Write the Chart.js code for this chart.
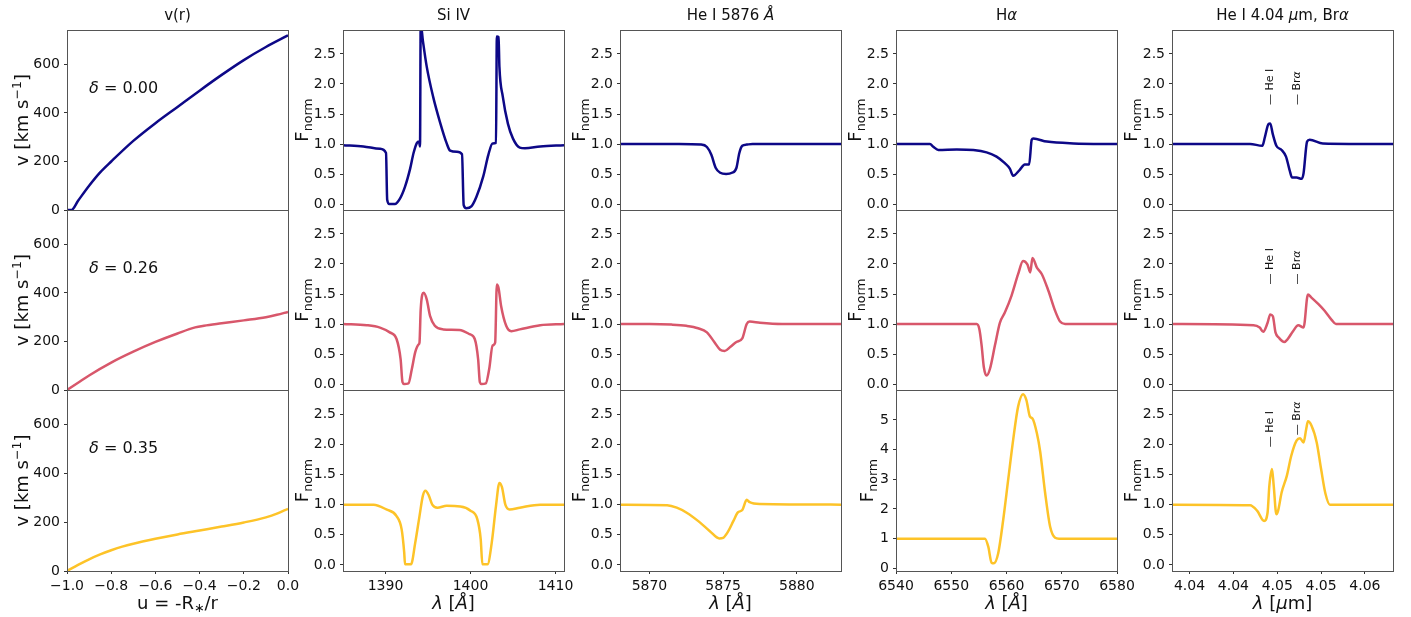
<!DOCTYPE html>
<html>
<head>
<meta charset="utf-8">
<script src="https://cdn.jsdelivr.net/npm/chart.js"></script>
<style>
  body { margin: 0; background: #fff; }
  #fig { position: relative; width: 1411px; height: 617px; overflow: hidden; background: #fff; }
  #fig canvas { position: absolute; }
</style>
</head>
<body>
<div id="fig"></div>
<script>
// ---- data ----
const deltas = ['0.00', '0.26', '0.35'];

// v(r) vs u = -R*/r
const vrU0 = [-1.0, -0.98, -0.95, -0.9, -0.85, -0.8, -0.7, -0.6, -0.5, -0.4, -0.3, -0.2, -0.1, 0.0];
const vrV0 = [0, 0, 38, 100, 155, 200, 285, 358, 425, 492, 557, 618, 672, 720];
const vrU1 = [-1.0, -0.95, -0.9, -0.8, -0.7, -0.6, -0.5, -0.42, -0.38, -0.3, -0.2, -0.1, -0.05, 0.0];
const vrV1 = [0, 30, 60, 113, 158, 198, 233, 258, 265, 275, 287, 300, 310, 322];
const vrU2 = [-1.0, -0.95, -0.9, -0.85, -0.8, -0.75, -0.7, -0.6, -0.5, -0.4, -0.3, -0.2, -0.1, -0.05, 0.0];
const vrV2 = [0, 25, 48, 68, 85, 100, 112, 132, 150, 166, 182, 199, 220, 235, 255];

// Si IV
const siX0 = [1385, 1387.4, 1389.35, 1390.06, 1390.2, 1390.45, 1391.1, 1391.7, 1392.3, 1392.9, 1393.3, 1393.7, 1393.95, 1394.06, 1394.14, 1394.4, 1394.85, 1395.6, 1396.4, 1397.2, 1397.6, 1398.4, 1399.0, 1399.2, 1399.5, 1400.1, 1400.7, 1401.5, 1402.1, 1402.6, 1403.0, 1403.1, 1403.3, 1403.4, 1403.8, 1404.4, 1405.0, 1405.8, 1406.4, 1408.2, 1411];
const siF0 = [0.98, 0.96, 0.92, 0.85, 0.07, 0.0, 0.0, 0.09, 0.29, 0.59, 0.85, 1.02, 1.04, 0.96, 3.0, 2.72, 2.29, 1.79, 1.37, 1.01, 0.89, 0.87, 0.83, -0.02, -0.07, -0.04, 0.12, 0.46, 0.82, 1.01, 1.02, 2.79, 2.78, 2.29, 1.79, 1.34, 1.09, 0.94, 0.93, 0.96, 0.98];
const siX1 = [1385, 1387.8, 1389.35, 1390.5, 1391.3, 1391.78, 1392.0, 1392.2, 1392.7, 1393.1, 1393.5, 1393.9, 1394.0, 1394.14, 1394.5, 1394.85, 1395.25, 1395.8, 1396.8, 1398.7, 1399.9, 1400.5, 1400.9, 1401.1, 1401.3, 1401.8, 1402.2, 1402.6, 1402.9, 1403.1, 1403.3, 1403.6, 1404.2, 1404.8, 1405.8, 1408.2, 1411];
const siF1 = [1.0, 0.98, 0.94, 0.86, 0.75, 0.41, 0.03, 0.0, 0.01, 0.25, 0.53, 0.66, 0.69, 1.24, 1.52, 1.41, 1.13, 0.97, 0.91, 0.90, 0.83, 0.75, 0.41, 0.03, 0.0, 0.01, 0.25, 0.64, 0.69, 1.66, 1.6, 1.30, 0.97, 0.88, 0.91, 0.98, 1.0];
const siX2 = [1385, 1388.6, 1390.1, 1391.3, 1391.9, 1392.2, 1392.3, 1393.0, 1393.5, 1394.0, 1394.4, 1394.7, 1395.1, 1395.5, 1396.1, 1397.2, 1398.8, 1400.0, 1400.8, 1401.2, 1401.4, 1402.0, 1402.5, 1403.0, 1403.4, 1403.7, 1404.1, 1404.6, 1405.8, 1408.2, 1411];
const siF2 = [1.0, 1.0, 0.92, 0.81, 0.59, 0.21, 0.01, 0.01, 0.37, 0.81, 1.15, 1.23, 1.15, 1.0, 0.95, 0.98, 0.97, 0.90, 0.76, 0.43, 0.01, 0.01, 0.37, 0.98, 1.36, 1.29, 1.0, 0.92, 0.95, 1.0, 1.0];

// He I 5876
const heX0 = [5868, 5872, 5873.5, 5873.9, 5874.2, 5874.5, 5874.8, 5875.2, 5875.6, 5875.9, 5876.1, 5876.3, 5876.6, 5877, 5883];
const heF0 = [1.0, 1.0, 0.99, 0.95, 0.82, 0.6, 0.52, 0.5, 0.52, 0.6, 0.85, 0.97, 0.99, 1.0, 1.0];
const heX1 = [5868, 5870, 5871.5, 5872.5, 5873.3, 5873.9, 5874.4, 5874.8, 5875.1, 5875.5, 5875.9, 5876.3, 5876.6, 5876.8, 5877.5, 5879, 5883];
const heF1 = [1.0, 1.0, 0.99, 0.97, 0.93, 0.86, 0.7, 0.57, 0.55, 0.62, 0.7, 0.76, 1.0, 1.04, 1.02, 1.0, 1.0];
const heX2 = [5868, 5871.2, 5871.85, 5872.5, 5873.4, 5874.1, 5874.74, 5875.0, 5875.35, 5875.7, 5876.0, 5876.3, 5876.6, 5876.8, 5877.5, 5883];
const heF2 = [1.0, 0.99, 0.95, 0.87, 0.71, 0.56, 0.44, 0.45, 0.56, 0.73, 0.87, 0.91, 1.08, 1.04, 1.01, 1.0];

// H alpha
const haX0 = [6540, 6546.15, 6546.75, 6547.66, 6551, 6554, 6556.4, 6558.2, 6559.7, 6560.6, 6561.2, 6562.4, 6563.3, 6564.1, 6564.56, 6564.85, 6567.3, 6572.1, 6580];
const haF0 = [1.0, 1.0, 0.955, 0.90, 0.91, 0.90, 0.86, 0.79, 0.68, 0.59, 0.47, 0.57, 0.66, 0.66, 1.07, 1.09, 1.04, 1.01, 1.0];
const haX1 = [6540, 6554.6, 6555.1, 6555.5, 6555.9, 6556.4, 6557.0, 6557.9, 6558.8, 6559.7, 6560.9, 6562.1, 6563.0, 6563.8, 6564.3, 6564.7, 6565.5, 6566.4, 6567.6, 6568.8, 6569.7, 6570.6, 6580];
const haF1 = [1.0, 1.0, 0.91, 0.64, 0.28, 0.14, 0.25, 0.64, 1.02, 1.19, 1.47, 1.83, 2.05, 1.99, 1.86, 2.10, 1.94, 1.83, 1.55, 1.22, 1.04, 1.0, 1.0];
const haX2 = [6540, 6556.1, 6556.7, 6557.3, 6557.7, 6558.5, 6559.4, 6560.3, 6561.2, 6562.1, 6563.0, 6563.6, 6564.25, 6564.7, 6565.5, 6566.1, 6567.0, 6567.9, 6568.8, 6569.5, 6580];
const haF2 = [1.0, 1.0, 0.73, 0.19, 0.17, 0.51, 1.63, 2.98, 4.32, 5.45, 5.87, 5.67, 5.11, 5.05, 4.55, 3.93, 2.53, 1.40, 1.03, 1.0, 1.0];

// He I 4.04 um + Br alpha
const brX0 = [4.0381, 4.0469, 4.0483, 4.0486, 4.0490, 4.0492, 4.0495, 4.0499, 4.0505, 4.0510, 4.0514, 4.0517, 4.0522, 4.0528, 4.0530, 4.0534, 4.0537, 4.0552, 4.0632];
const brF0 = [1.0, 1.0, 0.97, 1.12, 1.33, 1.34, 1.16, 0.97, 0.90, 0.79, 0.57, 0.44, 0.44, 0.42, 0.51, 1.04, 1.07, 1.01, 1.0];
const brX1 = [4.0381, 4.0473, 4.0480, 4.0484, 4.0489, 4.0492, 4.0495, 4.0498, 4.0502, 4.0508, 4.0512, 4.0518, 4.0524, 4.0530, 4.0535, 4.0539, 4.0547, 4.0554, 4.0562, 4.0567, 4.0632];
const brF1 = [1.0, 0.98, 0.94, 0.87, 1.02, 1.16, 1.13, 0.86, 0.77, 0.70, 0.75, 0.88, 0.98, 0.94, 1.49, 1.44, 1.33, 1.22, 1.07, 1.0, 1.0];
const brX2 = [4.0381, 4.0469, 4.0477, 4.0485, 4.0489, 4.0491, 4.0494, 4.0496, 4.0499, 4.0501, 4.0505, 4.0511, 4.0516, 4.0522, 4.0526, 4.0530, 4.0533, 4.0535, 4.0539, 4.0545, 4.0550, 4.0555, 4.0560, 4.0632];
const brF2 = [1.0, 0.99, 0.90, 0.73, 0.87, 1.31, 1.59, 1.31, 0.84, 0.90, 1.20, 1.48, 1.81, 2.06, 2.10, 2.03, 2.25, 2.38, 2.31, 2.03, 1.59, 1.18, 1.0, 1.0];

// line markers in the last column
const markX = [4.0491, 4.0522];
const markY = [[1.65, 1.65], [1.66, 1.66], [1.95, 2.15]];

// ticks
const vTicks = [0, 200, 400, 600];
const fTicks = [0, 0.5, 1.0, 1.5, 2.0, 2.5];
const haTicks3 = [0, 1, 2, 3, 4, 5];
const uTicks = [-1.0, -0.8, -0.6, -0.4, -0.2, 0.0];
const siTicks = [1390, 1400, 1410];
const heTicks = [5870, 5875, 5880];
const haTicks = [6540, 6550, 6560, 6570, 6580];
const brTicks = [4.040, 4.045, 4.050, 4.055, 4.060];
const brTickLabels = ['4.04', '4.04', '4.05', '4.05', '4.06'];

const rowColors = ['#0d0887', '#d8576b', '#fdc328'];

// ---- layout ----
const colLeft = [67, 343, 620, 896, 1172];
const rowTop = [30, 210, 390];
const rowH = [180, 180, 181];
const boxW = 221;
const padL = 70, padT = 30, padR = 24, padB = 46;
const yAxisW = 64, xAxisH = 26;
const FONT = '"DejaVu Sans", sans-serif';
const INK = '#111';

const T = (t, o) => Object.assign({ t: t, size: 18 }, o || {});
const fTitle = [T('F'), T('norm', { size: 12.6, dy: 4 })];
const lamA = [T('\u03bb', { italic: true }), T(' ['), T('\u00c5', { italic: true }), T(']')];

const columns = [
  {
    title: [T('v(r)', { size: 15 })], xr: [-1, 0], yr: [0, 742], xt: uTicks, yt: vTicks,
    xfmt: (v) => v.toFixed(1).replace('-', '\u2212'), yfmt: (v) => String(v),
    ytitle: [T('v [km s'), T('\u22121', { size: 12.6, dy: -7 }), T(']')], yoff: 39,
    xtitle: [T('u = -R'), T('\u2217', { size: 12.6, dy: 3 }), T('/r')],
    series: [[vrU0, vrV0], [vrU1, vrV1], [vrU2, vrV2]]
  },
  {
    title: [T('Si IV', { size: 15 })], xr: [1385, 1411], yr: [-0.1, 2.9], xt: siTicks, yt: fTicks,
    xfmt: (v) => String(v), yfmt: (v) => v.toFixed(1), ytitle: fTitle, yoff: 35, xtitle: lamA,
    series: [[siX0, siF0], [siX1, siF1], [siX2, siF2]]
  },
  {
    title: [T('He I 5876 ', { size: 15 }), T('\u00c5', { size: 15, italic: true })],
    xr: [5868, 5883], yr: [-0.1, 2.9], xt: heTicks, yt: fTicks,
    xfmt: (v) => String(v), yfmt: (v) => v.toFixed(1), ytitle: fTitle, yoff: 35, xtitle: lamA,
    series: [[heX0, heF0], [heX1, heF1], [heX2, heF2]]
  },
  {
    title: [T('H', { size: 15 }), T('\u03b1', { size: 15, italic: true })],
    xr: [6540, 6580], yr: [-0.1, 2.9], xt: haTicks, yt: fTicks,
    xfmt: (v) => String(v), yfmt: (v) => v.toFixed(1), ytitle: fTitle, yoff: 35, xtitle: lamA,
    series: [[haX0, haF0], [haX1, haF1], [haX2, haF2]],
    last: { yr: [-0.09, 6.01], yt: haTicks3, yfmt: (v) => String(v), yoff: 23 }
  },
  {
    title: [T('He I 4.04 ', { size: 15 }), T('\u00b5', { size: 15, italic: true }), T('m, Br', { size: 15 }), T('\u03b1', { size: 15, italic: true })],
    xr: [4.038, 4.0632], yr: [-0.1, 2.9], xt: brTicks, yt: fTicks,
    xfmt: (v, i) => brTickLabels[i], yfmt: (v) => v.toFixed(1), ytitle: fTitle, yoff: 35,
    xtitle: [T('\u03bb', { italic: true }), T(' ['), T('\u00b5', { italic: true }), T('m]')],
    series: [[brX0, brF0], [brX1, brF1], [brX2, brF2]], marks: true
  }
];

function rich(ctx, segs, x, y, align, angle, base) {
  ctx.save();
  ctx.translate(x, y);
  ctx.rotate(angle);
  ctx.textAlign = 'left';
  ctx.textBaseline = base || 'alphabetic';
  ctx.fillStyle = INK;
  const fnt = (s) => (s.italic ? 'italic ' : '') + s.size + 'px ' + FONT;
  let total = 0;
  segs.forEach((s) => { ctx.font = fnt(s); total += ctx.measureText(s.t).width; });
  let cx = align === 'center' ? -total / 2 : (align === 'right' ? -total : 0);
  segs.forEach((s) => {
    ctx.font = fnt(s);
    ctx.fillText(s.t, cx, s.dy || 0);
    cx += ctx.measureText(s.t).width;
  });
  ctx.restore();
}

function makeDeco(d) {
  return {
    id: 'deco',
    afterDraw(chart) {
      const { ctx, chartArea: a, scales } = chart;
      ctx.save();
      ctx.strokeStyle = '#555';
      ctx.lineWidth = 1;
      ctx.strokeRect(Math.round(a.left) + 0.5, Math.round(a.top) + 0.5, Math.round(a.right - a.left), Math.round(a.bottom - a.top));
      if (d.title) rich(ctx, d.title, (a.left + a.right) / 2, a.top - 10, 'center', 0);
      rich(ctx, d.ytitle, a.left - d.yoff, (a.top + a.bottom) / 2, 'center', -Math.PI / 2);
      if (d.xtitle) rich(ctx, d.xtitle, (a.left + a.right) / 2, a.bottom + 38, 'center', 0);
      if (d.label) {
        rich(ctx, d.label, scales.x.getPixelForValue(-0.9), scales.y.getPixelForValue(500), 'left', 0, 'middle');
      }
      if (d.marks) {
        const labels = [[T('\u2014 He I', { size: 11 })], [T('\u2014 Br', { size: 11 }), T('\u03b1', { size: 11, italic: true })]];
        markX.forEach((mx, i) => {
          rich(ctx, labels[i], scales.x.getPixelForValue(mx) + 3.5, scales.y.getPixelForValue(d.marks[i]), 'left', -Math.PI / 2);
        });
      }
      ctx.restore();
    }
  };
}

// fixed axis boxes so every plot area lands on the same pixels
function fixFit(s) {
  const shown = s.options.display !== false;
  if (s.isHorizontal()) s.height = shown ? xAxisH : 0;
  else s.width = shown ? yAxisW : 0;
  s.paddingLeft = 0; s.paddingRight = 0; s.paddingTop = 0; s.paddingBottom = 0;
}

const fig = document.getElementById('fig');

columns.forEach((col, c) => {
  col.series.forEach((ser, r) => {
    const last = r === 2 && col.last ? col.last : {};
    const yr = last.yr || col.yr;
    const yt = last.yt || col.yt;
    const yfmt = last.yfmt || col.yfmt;
    const yoff = last.yoff || col.yoff;
    const showX = r === 2;

    const cv = document.createElement('canvas');
    cv.width = padL + boxW + padR;
    cv.height = padT + rowH[r] + padB;
    cv.style.left = (colLeft[c] - padL) + 'px';
    cv.style.top = (rowTop[r] - padT) + 'px';
    cv.style.width = cv.width + 'px';
    cv.style.height = cv.height + 'px';
    fig.appendChild(cv);

    const pts = ser[0].map((x, i) => ({ x: x, y: ser[1][i] }));
    const deco = {
      title: r === 0 ? col.title : null,
      ytitle: col.ytitle, yoff: yoff,
      xtitle: showX ? col.xtitle : null,
      label: c === 0 ? [T('\u03b4', { size: 16, italic: true }), T(' = ' + deltas[r], { size: 16 })] : null,
      marks: col.marks ? markY[r] : null
    };

    new Chart(cv, {
      type: 'line',
      data: {
        datasets: [{
          data: pts,
          borderColor: rowColors[r],
          borderWidth: 2.5,
          pointRadius: 0,
          fill: false,
          cubicInterpolationMode: 'monotone'
        }]
      },
      options: {
        responsive: false,
        animation: false,
        devicePixelRatio: 1,
        events: [],
        layout: {
          padding: { left: padL - yAxisW, top: padT, right: padR, bottom: showX ? padB - xAxisH : padB },
          autoPadding: false
        },
        plugins: { legend: { display: false }, tooltip: { enabled: false } },
        scales: {
          x: {
            type: 'linear', min: col.xr[0], max: col.xr[1],
            display: showX,
            afterBuildTicks: (s) => { s.ticks = col.xt.map((v) => ({ value: v })); },
            afterFit: fixFit,
            ticks: {
              autoSkip: false, maxRotation: 0, minRotation: 0, padding: 4, color: INK,
              font: { family: FONT, size: 14 },
              callback: (v, i) => col.xfmt(v, i)
            },
            grid: { display: true, drawOnChartArea: false, drawTicks: true, tickLength: 3, color: '#333' },
            border: { display: false }
          },
          y: {
            type: 'linear', min: yr[0], max: yr[1],
            afterBuildTicks: (s) => { s.ticks = yt.map((v) => ({ value: v })); },
            afterFit: fixFit,
            ticks: {
              autoSkip: false, padding: 4, color: INK,
              font: { family: FONT, size: 14 },
              callback: (v) => yfmt(v)
            },
            grid: { display: true, drawOnChartArea: false, drawTicks: true, tickLength: 3, color: '#333' },
            border: { display: false }
          }
        }
      },
      plugins: [makeDeco(deco)]
    });
  });
});
</script>
</body>
</html>
